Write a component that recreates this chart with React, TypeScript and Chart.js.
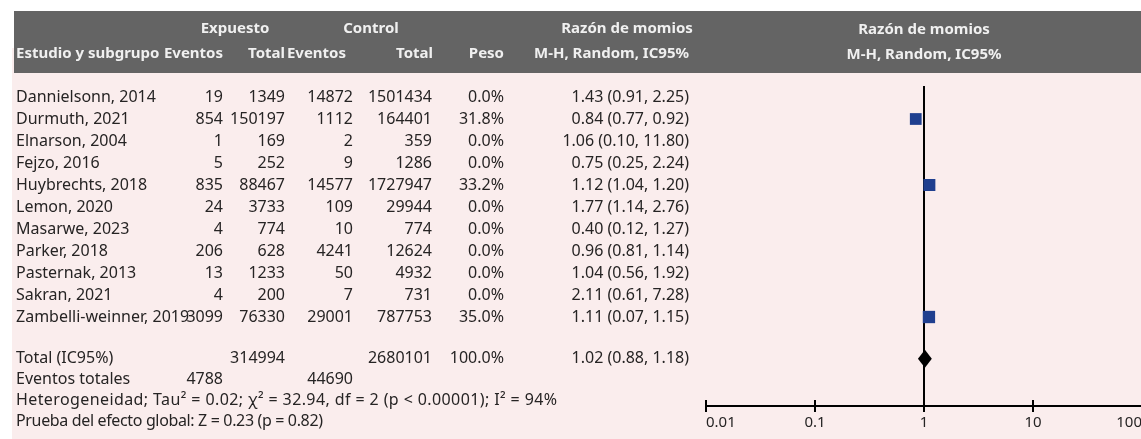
import React, { useEffect, useRef } from 'react';
import { Chart, registerables } from 'chart.js';

Chart.register(...registerables);

// Study rows
const studies = [
  'Dannielsonn, 2014',
  'Durmuth, 2021',
  'Elnarson, 2004',
  'Fejzo, 2016',
  'Huybrechts, 2018',
  'Lemon, 2020',
  'Masarwe, 2023',
  'Parker, 2018',
  'Pasternak, 2013',
  'Sakran, 2021',
  'Zambelli-weinner, 2019',
];
const expEvents = [19, 854, 1, 5, 835, 24, 4, 206, 13, 4, 3099];
const expTotal = [1349, 150197, 169, 252, 88467, 3733, 774, 628, 1233, 200, 76330];
const ctrlEvents = [14872, 1112, 2, 9, 14577, 109, 10, 4241, 50, 7, 29001];
const ctrlTotal = [1501434, 164401, 359, 1286, 1727947, 29944, 774, 12624, 4932, 731, 787753];
const weights = [0, 31.8, 0, 0, 33.2, 0, 0, 0, 0, 0, 35.0];
const oddsRatio = [1.43, 0.84, 1.06, 0.75, 1.12, 1.77, 0.4, 0.96, 1.04, 2.11, 1.11];
const ciLower = [0.91, 0.77, 0.1, 0.25, 1.04, 1.14, 0.12, 0.81, 0.56, 0.61, 0.07];
const ciUpper = [2.25, 0.92, 11.8, 2.24, 1.2, 2.76, 1.27, 1.14, 1.92, 7.28, 1.15];
const whiskerShown = [false, true, false, false, true, false, false, false, false, false, false];

// Pooled result
const totalExpTotal = 314994;
const totalCtrlTotal = 2680101;
const totalWeight = 100.0;
const totalExpEvents = 4788;
const totalCtrlEvents = 44690;
const pooledOR = 1.02;
const pooledLower = 0.88;
const pooledUpper = 1.18;

const footerLines = [
  'Heterogeneidad; Tau\u00B2 = 0.02; \u03C7\u00B2 = 32.94, df = 2 (p < 0.00001); I\u00B2 = 94%',
  'Prueba del efecto global: Z = 0.23 (p = 0.82)',
];

// Axis
const axisTicks = [0.01, 0.1, 1, 10, 100];
const axisLabels = ['0.01', '0.1', '1', '10', '100'];

// Layout (row units on the y scale, one study per unit)
const ROW_TOTAL = 11.9;
const ROW_EVENTS = 12.85;
const ROW_FOOTER = [13.8, 14.76];
const FOOTER_SPACING = ['0.4px', '-0.35px'];

const FONT = '"Noto Sans", Lato, sans-serif';
const TEXT = '#262424';
const PINK = '#faeded';
const GRAY = '#646464';
const HEADER_TEXT = '#f0f0f0';
const SQUARE = '#1f3f8f';

const COL = {
  name: 16,
  expEv: 223,
  expTot: 285,
  ctrlEv: 353,
  ctrlTot: 432,
  weight: 504,
  ci: 689,
};

const fmtCI = (or: number, lo: number, hi: number) =>
  `${or.toFixed(2)} (${lo.toFixed(2)}, ${hi.toFixed(2)})`;

const forestPlugin = {
  id: 'forestTable',
  beforeDraw(chart: any) {
    const { ctx, width, height } = chart;
    ctx.save();
    ctx.fillStyle = '#ffffff';
    ctx.fillRect(0, 0, width, height);
    ctx.fillStyle = PINK;
    ctx.fillRect(12, 48, width - 12, height - 48);
    ctx.fillStyle = GRAY;
    ctx.fillRect(14, 11, width - 14, 62);
    ctx.restore();
  },
  beforeDatasetsDraw(chart: any) {
    const { ctx, chartArea } = chart;
    const xs = chart.scales.x;
    const ys = chart.scales.y;
    ctx.save();
    ctx.strokeStyle = '#000';
    // line of no effect
    const x1 = xs.getPixelForValue(1);
    ctx.lineWidth = 2;
    ctx.beginPath();
    ctx.moveTo(x1, chartArea.top);
    ctx.lineTo(x1, chartArea.bottom);
    ctx.stroke();
    // confidence intervals
    ctx.lineWidth = 1.5;
    studies.forEach((_, i) => {
      if (!whiskerShown[i]) return;
      const y = ys.getPixelForValue(i);
      ctx.beginPath();
      ctx.moveTo(xs.getPixelForValue(ciLower[i]), y);
      ctx.lineTo(xs.getPixelForValue(ciUpper[i]), y);
      ctx.stroke();
    });
    // pooled diamond
    const yT = ys.getPixelForValue(ROW_TOTAL);
    ctx.fillStyle = '#000';
    ctx.beginPath();
    ctx.moveTo(xs.getPixelForValue(pooledLower), yT);
    ctx.lineTo(xs.getPixelForValue(pooledOR), yT - 9);
    ctx.lineTo(xs.getPixelForValue(pooledUpper), yT);
    ctx.lineTo(xs.getPixelForValue(pooledOR), yT + 9);
    ctx.closePath();
    ctx.fill();
    ctx.restore();
  },
  afterDraw(chart: any) {
    const { ctx, chartArea } = chart;
    const xs = chart.scales.x;
    const ys = chart.scales.y;
    ctx.save();

    // upper halves of the axis tick marks
    ctx.strokeStyle = '#000';
    ctx.lineWidth = 2;
    axisTicks.forEach((v) => {
      const x = xs.getPixelForValue(v);
      ctx.beginPath();
      ctx.moveTo(x, chartArea.bottom - 6);
      ctx.lineTo(x, chartArea.bottom);
      ctx.stroke();
    });

    // header
    ctx.fillStyle = HEADER_TEXT;
    ctx.font = `bold 15px ${FONT}`;
    ctx.textBaseline = 'middle';
    const h1 = 28.5;
    const h2 = 53.5;
    ctx.textAlign = 'center';
    ctx.fillText('Expuesto', 235, h1);
    ctx.fillText('Control', 371, h1);
    ctx.fillText('Razón de momios', 627, h1);
    const xMid = xs.getPixelForValue(1);
    ctx.fillText('Razón de momios', xMid, h1 + 1);
    ctx.fillText('M-H, Random, IC95%', xMid, h2 + 1);
    ctx.textAlign = 'left';
    ctx.fillText('Estudio y subgrupo', COL.name, h2);
    ctx.textAlign = 'right';
    ctx.fillText('Eventos', COL.expEv, h2);
    ctx.fillText('Total', COL.expTot, h2);
    ctx.fillText('Eventos', 346, h2);
    ctx.fillText('Total', 433, h2);
    ctx.fillText('Peso', COL.weight, h2);
    ctx.fillText('M-H, Random, IC95%', COL.ci, h2);

    // study rows
    ctx.fillStyle = TEXT;
    ctx.font = `16px ${FONT}`;
    const row = (y: number, cells: [string, number, CanvasTextAlign][]) => {
      cells.forEach(([t, x, a]) => {
        ctx.textAlign = a;
        ctx.fillText(t, x, y);
      });
    };
    studies.forEach((name, i) => {
      const y = ys.getPixelForValue(i);
      row(y, [
        [name, COL.name, 'left'],
        [String(expEvents[i]), COL.expEv, 'right'],
        [String(expTotal[i]), COL.expTot, 'right'],
        [String(ctrlEvents[i]), COL.ctrlEv, 'right'],
        [String(ctrlTotal[i]), COL.ctrlTot, 'right'],
        [`${weights[i].toFixed(1)}%`, COL.weight, 'right'],
        [fmtCI(oddsRatio[i], ciLower[i], ciUpper[i]), COL.ci, 'right'],
      ]);
    });

    // totals
    row(ys.getPixelForValue(ROW_TOTAL), [
      ['Total (IC95%)', COL.name, 'left'],
      [String(totalExpTotal), COL.expTot, 'right'],
      [String(totalCtrlTotal), COL.ctrlTot, 'right'],
      [`${totalWeight.toFixed(1)}%`, COL.weight, 'right'],
      [fmtCI(pooledOR, pooledLower, pooledUpper), COL.ci, 'right'],
    ]);
    row(ys.getPixelForValue(ROW_EVENTS), [
      ['Eventos totales', COL.name, 'left'],
      [String(totalExpEvents), COL.expEv, 'right'],
      [String(totalCtrlEvents), COL.ctrlEv, 'right'],
    ]);
    footerLines.forEach((t, k) => {
      ctx.letterSpacing = FOOTER_SPACING[k];
      row(ys.getPixelForValue(ROW_FOOTER[k]), [[t, COL.name, 'left']]);
    });
    ctx.letterSpacing = '0px';
    ctx.restore();
  },
};

const CANVAS_W = 1160;
const CANVAS_H = 439;

export default function App() {
  const ref = useRef<HTMLCanvasElement | null>(null);

  useEffect(() => {
    if (!ref.current) return;
    const idx = studies.map((_, i) => i).filter((i) => weights[i] > 0);
    const chart = new Chart(ref.current, {
      type: 'scatter',
      data: {
        datasets: [
          {
            label: 'Razón de momios',
            data: idx.map((i) => ({ x: oddsRatio[i], y: i })),
            pointStyle: 'rect',
            pointRadius: idx.map((i) => 8.5 * Math.sqrt(weights[i] / 33.3)),
            backgroundColor: SQUARE,
            borderWidth: 0,
          },
        ],
      },
      options: {
        responsive: false,
        animation: false,
        events: [],
        layout: { padding: { left: 706, right: CANVAS_W - 1142, top: 86, bottom: 3 } },
        plugins: { legend: { display: false }, tooltip: { enabled: false } },
        scales: {
          x: {
            type: 'logarithmic',
            min: 0.01,
            max: 100,
            position: 'bottom',
            afterBuildTicks: (s: any) => {
              s.ticks = axisTicks.map((v) => ({ value: v }));
            },
            afterFit: (s: any) => {
              s.height = 30;
            },
            grid: {
              display: true,
              drawOnChartArea: false,
              drawTicks: true,
              tickLength: 6,
              color: '#000',
              lineWidth: 2,
            },
            border: { display: true, color: '#000', width: 2 },
            ticks: {
              align: 'inner',
              padding: 2,
              autoSkip: false,
              maxRotation: 0,
              color: TEXT,
              font: { family: FONT, size: 15 },
              callback: (_v: any, i: number) => axisLabels[i],
            },
          },
          y: { type: 'linear', min: -0.5, max: 14.045, reverse: true, display: false },
        },
      } as any,
      plugins: [forestPlugin],
    });
    return () => chart.destroy();
  }, []);

  return (
    <div
      style={{
        position: 'fixed',
        left: 0,
        top: 0,
        width: 1141,
        height: 439,
        overflow: 'hidden',
        background: '#fff',
      }}
    >
      <canvas ref={ref} width={CANVAS_W} height={CANVAS_H} style={{ display: 'block' }} />
    </div>
  );
}
